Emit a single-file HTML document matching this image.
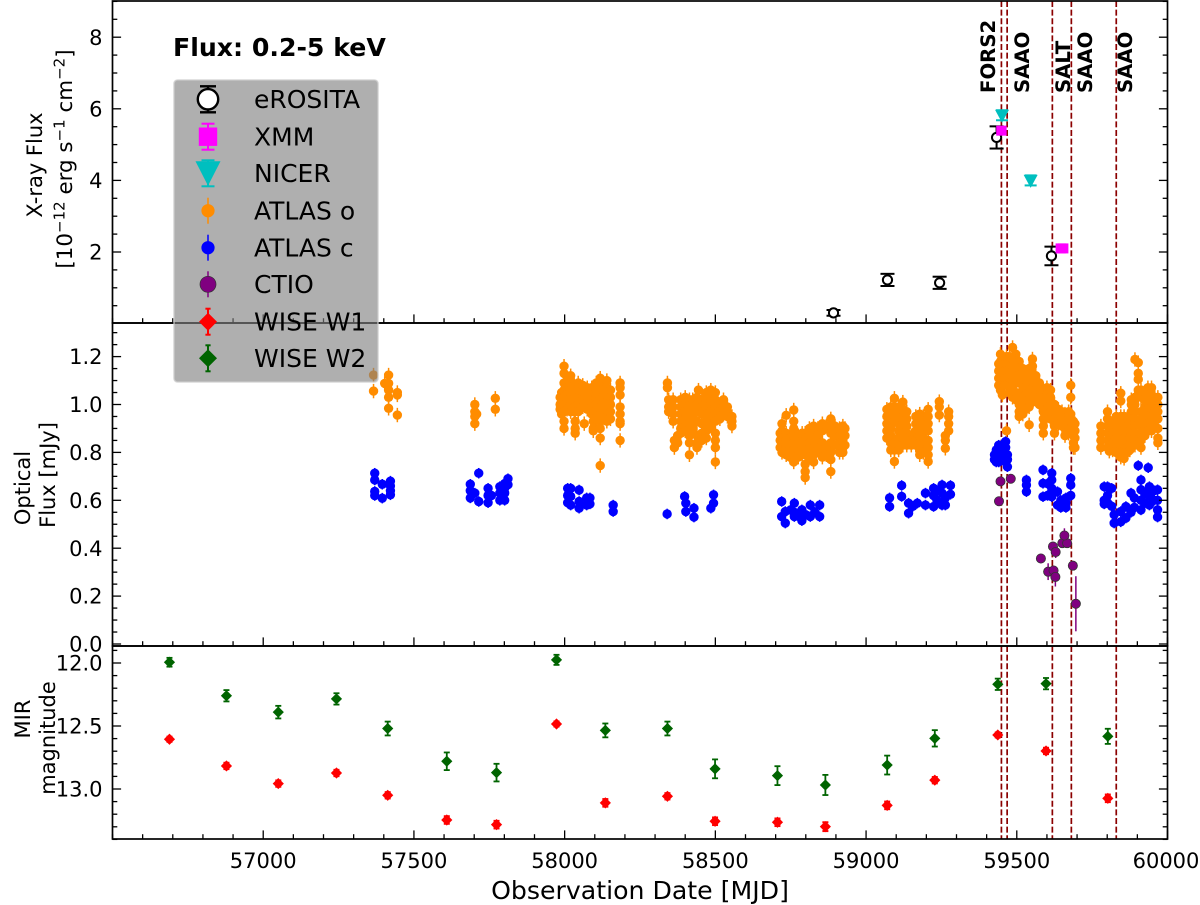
<!DOCTYPE html>
<html lang="en">
<head>
<meta charset="utf-8">
<title>Multi-wavelength light curve</title>
<style>
html,body{margin:0;padding:0;background:#fff;}
svg{display:block;font-family:"DejaVu Sans","Liberation Sans",sans-serif;}
</style>
</head>
<body>
<svg id="chart" xmlns="http://www.w3.org/2000/svg" width="1200" height="905" viewBox="0 0 1200 905"></svg>
<script>
const xTickValues=[57000,57500,58000,58500,59000,59500,60000];
const xrayTickValues=[2,4,6,8];
const xrayTickLabels=["2","4","6","8"];
const opticalTickValues=[0,0.2,0.4,0.6,0.8,1.0,1.2];
const opticalTickLabels=["0.0","0.2","0.4","0.6","0.8","1.0","1.2"];
const mirTickValues=[12,12.5,13];
const mirTickLabels=["12.0","12.5","13.0"];
const specLines=[59449,59468,59618,59681,59830];
const specLabels=["FORS2","SAAO","SALT","SAAO","SAAO"];

const erositaMjd=[58892,59071,59244,59433,59615];
const erositaFlux=[0.3,1.22,1.14,5.2,1.89];
const erositaErr=[0.08,0.17,0.17,0.31,0.26];
const xmmMjd=[59449,59646,59654];
const xmmFlux=[5.39,2.1,2.1];
const xmmErr=[0.08,0.06,0.06];
const nicerMjd=[59451,59546];
const nicerFlux=[5.82,4.0];
const nicerErr=[0.14,0.14];

const ctioMjd=[59446,59441,59480,59580,59604,59620,59622,59629,59628,59651,59667,59658,59686,59696];
const ctioFlux=[0.679,0.596,0.69,0.357,0.302,0.407,0.307,0.384,0.28,0.421,0.421,0.453,0.327,0.168];
const ctioErr=[0.01,0.01,0.01,0.015,0.035,0.015,0.02,0.025,0.04,0.02,0.015,0.03,0.015,0.115];

const atlasOErr=[0.03];
const atlasCErr=[0.022];
const atlasOGroups=[
[57366,[1.123,1.056]],[57403,[1.088]],[57416,[1.123,1.088,1.06,1.03,0.984]],[57445,[1.05,1.04,0.956]],
[57702,[1.0,0.97,0.95,0.92]],[57708,[0.96]],[57770,[1.026,0.98]],
[57985,[1.03,1.0,0.98]],[57990,[1.05,1.02,0.99,0.96]],[57998,[1.16,1.13,1.09,1.06,1.03,1.0,0.97,0.93,0.9]],
[58008,[1.1,1.07,1.04,1.01,0.98]],[58020,[1.12,1.09,1.06,1.03,1.0,0.97]],[58032,[1.08,1.05,1.02,0.99,0.97]],
[58035,[0.93,0.9,0.88]],[58045,[1.09,1.06,1.03,1.0,0.97]],[58060,[1.08,1.05,1.02,0.99]],[58065,[0.92]],
[58075,[1.07,1.04,1.01,0.98]],[58090,[1.07,1.04,1.01,0.99,0.96]],[58095,[0.93,0.9,0.89]],
[58105,[1.09,1.06,1.03,1.0,0.97,0.94]],[58118,[1.11,1.08,1.05,1.02,0.99,0.96,0.93,0.9,0.86,0.745]],
[58130,[1.07,1.04,1.01,0.98]],[58140,[1.1,1.07,1.04,1.01,0.98,0.95,0.93]],[58152,[1.06,1.03,1.0,0.97,0.94]],
[58184,[1.09,1.07,1.04,0.99,0.96,0.93,0.92,0.85]],
[58341,[1.09,1.07]],[58345,[1.02,0.99,0.97]],[58360,[1.02,0.99,0.96,0.93]],[58364,[0.85,0.82]],[58375,[0.87,0.84]],
[58385,[1.02,0.99,0.96,0.93,0.9,0.88]],[58400,[1.03,1.0,0.97,0.94,0.91,0.89]],[58414,[1.02,0.99,0.96,0.92,0.87,0.84,0.79]],
[58425,[1.02,0.99,0.95,0.9]],[58439,[1.03,1.0,0.97,0.93,0.87,0.84,0.82]],[58444,[1.06]],
[58455,[1.02,0.99,0.96,0.92,0.88,0.85]],[58470,[1.05,1.02,0.99,0.96,0.93,0.89,0.86]],[58485,[1.06,1.03,1.0,0.97,0.94,0.91]],
[58500,[1.05,1.02,0.99,0.96,0.93,0.88,0.85,0.82,0.76]],[58515,[1.0,0.97,0.94]],[58527,[1.02,0.99,0.96]],
[58540,[0.99,0.97,0.95]],[58555,[0.95,0.93,0.91]],
[58715,[0.88,0.85,0.82]],[58721,[0.92,0.89,0.86,0.83,0.8]],[58735,[0.955,0.88,0.85,0.82,0.79]],[58748,[0.86,0.83,0.8,0.78]],
[58760,[0.977,0.93,0.9,0.87,0.84,0.81,0.78,0.76]],[58775,[0.87,0.84,0.81,0.78]],[58788,[0.88,0.85,0.82,0.79]],
[58798,[0.88,0.85,0.82,0.79,0.75,0.72,0.695]],[58812,[0.9,0.87,0.84,0.81,0.78]],[58826,[0.91,0.88,0.85,0.82,0.79,0.76]],
[58840,[0.9,0.87,0.84,0.81]],[58855,[0.92,0.89,0.84,0.81,0.78]],[58868,[0.91,0.82,0.79]],
[58883,[0.94,0.91,0.88,0.84,0.8,0.77,0.72]],[58897,[0.91,0.87,0.83]],[58912,[0.9,0.87,0.84,0.8]],[58923,[0.91,0.88,0.85,0.82,0.8]],[58930,[0.9,0.87,0.83]],
[59069,[0.98,0.95,0.92,0.89,0.86]],[59082,[0.99,0.96,0.9,0.87,0.84,0.81]],[59094,[1.026,0.99,0.96,0.93,0.84,0.81,0.762]],
[59108,[0.99,0.96,0.92,0.89,0.86,0.83,0.81]],[59122,[1.01,0.98,0.95,0.92,0.89,0.86,0.83]],[59135,[0.97,0.94,0.91,0.88,0.85,0.83]],
[59150,[0.87,0.85,0.83]],[59165,[0.95,0.92,0.89,0.85,0.83]],[59178,[0.96,0.93,0.9,0.87,0.84,0.81,0.79]],
[59190,[0.95,0.92,0.89,0.86,0.83,0.8]],[59206,[0.98,0.95,0.92,0.89,0.85,0.82,0.79,0.762]],[59243,[1.012,0.99,0.956]],
[59263,[0.87,0.85,0.817]],[59274,[0.97,0.95,0.92,0.89]],
[59440,[1.17,1.14,1.11,1.08]],[59446,[1.21,1.18,1.15,1.12,1.09,1.06]],[59452,[1.19,1.16,1.13,1.1,1.04]],[59460,[1.17,1.14,1.11,1.08]],
[59466,[1.2,1.17,1.14,1.11,1.08,0.89]],[59476,[1.2,1.17,1.14,1.11,1.08,1.05]],[59486,[1.238,1.19,1.16,1.13,1.1,1.07,1.03]],
[59497,[1.21,1.18,1.15,1.12,1.09,1.05,1.02]],[59508,[1.18,1.15,1.12,1.09,1.0,0.97,0.95]],[59520,[1.15,1.12,1.09,1.06,1.03,0.99,0.96]],
[59530,[1.13,1.1,1.07,1.04,1.01,0.98]],[59541,[1.15,1.12,1.09,1.05,1.02,0.99,0.915]],[59552,[1.19,1.16,1.13,1.1,1.07,1.04,1.01]],
[59563,[1.12,1.09,1.06,1.03]],[59575,[1.09,1.06,1.03,1.0]],[59588,[1.06,1.03,1.0,0.97,0.94,0.91,0.88]],[59600,[1.07,1.04,1.01,0.98,0.95]],
[59612,[1.06,1.03,1.0,0.97,0.94]],[59625,[1.0,0.97,0.94,0.91,0.88]],[59638,[0.98,0.95,0.92]],[59650,[0.97,0.94,0.91]],
[59660,[0.96,0.93,0.9,0.87]],[59672,[0.97,0.94,0.91,0.88]],[59679,[1.08,1.03,0.96,0.93,0.9]],[59688,[0.93,0.9,0.87,0.84,0.82]],[59693,[0.92,0.89,0.86,0.82]],
[59779,[0.91,0.88,0.85,0.82]],[59801,[0.97,0.94,0.91,0.88,0.85,0.82]],[59807,[0.93,0.9,0.87,0.805]],[59818,[0.93,0.9,0.87,0.84,0.81]],
[59830,[0.95,0.92,0.89,0.86,0.83,0.8]],[59845,[1.047,1.015,0.95,0.92,0.89,0.86,0.83,0.8,0.78]],[59856,[0.95,0.92,0.89,0.86,0.83,0.8,0.775]],
[59866,[0.94,0.91,0.88,0.85,0.82,0.8]],[59875,[0.89,0.86,0.83,0.81]],[59880,[1.02,1.0,0.97,0.94,0.91,0.88,0.85,0.82]],
[59892,[1.188,1.03,1.0,0.97,0.94,0.91,0.88,0.85,0.83]],[59903,[1.175,1.13,1.105,1.06,1.04]],[59912,[1.06,1.03,0.97,0.94,0.91,0.88,0.85,0.82]],
[59925,[1.05,1.02,0.99,0.96,0.93,0.9,0.87]],[59935,[1.07,1.04,1.01,0.98,0.95,0.92,0.89]],[59947,[1.07,1.04,1.01,0.98,0.95,0.92,0.89]],
[59958,[1.03,1.0,0.97,0.94,0.91]],[59968,[1.03,1.0,0.97,0.94,0.9,0.86,0.84]]
];
const atlasCGroups=[
[57370,[0.713,0.685,0.637,0.62]],[57395,[0.667,0.609]],[57422,[0.68,0.66,0.64,0.623]],
[57715,[0.713,0.595]],[57687,[0.667,0.64,0.61]],[57702,[0.63]],[57746,[0.65,0.62,0.59]],[57757,[0.62]],[57785,[0.657,0.63,0.6]],[57801,[0.67,0.65,0.63,0.6]],[57812,[0.69,0.665]],
[58010,[0.65,0.62,0.59]],[58020,[0.65,0.616,0.58]],[58048,[0.643,0.595,0.567]],[58073,[0.61,0.58]],[58084,[0.61,0.585]],[58161,[0.58,0.553]],[58340,[0.543]],
[58398,[0.616]],[58402,[0.588,0.553]],[58429,[0.567,0.53]],[58494,[0.623,0.588]],[58485,[0.567]],
[58720,[0.595,0.532]],[58732,[0.553,0.505]],[58762,[0.588,0.55,0.532]],[58787,[0.56,0.515]],[58815,[0.58,0.532]],[58846,[0.58,0.532]],[58750,[0.56]],[58775,[0.535]],[58800,[0.54]],[58830,[0.55]],
[59078,[0.61,0.574]],[59118,[0.662,0.616]],[59141,[0.588,0.546]],[59170,[0.588]],[59155,[0.575]],[59197,[0.63,0.58]],[59224,[0.65,0.62,0.574]],[59252,[0.664,0.63,0.58]],[59263,[0.61,0.58]],[59280,[0.662,0.625]],[59235,[0.64,0.6]],
[59426,[0.79,0.77]],[59432,[0.81,0.78,0.76]],[59440,[0.83,0.8,0.77,0.76]],[59450,[0.83,0.8,0.77]],[59463,[0.845,0.82,0.79,0.76]],[59469,[0.79,0.77,0.74]],
[59532,[0.685,0.664,0.636]],[59587,[0.727,0.671,0.615]],[59602,[0.67,0.62]],[59616,[0.713,0.685,0.65,0.615]],[59635,[0.636,0.58]],[59646,[0.6,0.57]],[59663,[0.61,0.59,0.57]],[59679,[0.692,0.664,0.62]],
[59790,[0.657,0.6,0.585]],[59801,[0.657,0.62,0.59]],[59815,[0.65,0.575]],[59823,[0.54,0.505]],[59845,[0.553,0.51]],[59862,[0.574,0.526]],[59879,[0.63,0.55]],[59890,[0.61,0.57]],
[59903,[0.745]],[59912,[0.685,0.644,0.6,0.56]],[59925,[0.63,0.59]],[59936,[0.736]],[59940,[0.657,0.62,0.58]],[59956,[0.64,0.6]],[59967,[0.644,0.6,0.56,0.53]]
];

const wiseMjd=[56689,56878,57050,57243,57413,57609,57774,57973,58135,58341,58499,58706,58865,59070,59228,59437,59597,59802];
const wiseW1Mag=[12.605,12.817,12.957,12.873,13.05,13.246,13.283,12.484,13.11,13.058,13.256,13.264,13.299,13.13,12.93,12.571,12.698,13.074];
const wiseW1Err=[0.02,0.025,0.025,0.025,0.025,0.03,0.03,0.02,0.03,0.025,0.03,0.03,0.035,0.03,0.025,0.02,0.025,0.03];
const wiseW2Mag=[11.994,12.26,12.39,12.285,12.52,12.78,12.87,11.975,12.535,12.52,12.84,12.894,12.968,12.81,12.598,12.169,12.164,12.582];
const wiseW2Err=[0.035,0.045,0.05,0.045,0.055,0.07,0.07,0.04,0.055,0.055,0.075,0.075,0.08,0.075,0.065,0.045,0.045,0.06];

const NS="http://www.w3.org/2000/svg";
const svg=document.getElementById("chart");
const L=112.5,R=1167.5,P1T=1,P1B=323,P2B=646,P3B=839;
function sx(v){return L+(v-56500)*(R-L)/3500;}
function y1(v){return 323.6-v*35.8;}
function y2(v){return 644-v*239.5;}
function y3(v){return 663+(v-12)*126;}
function mk(tag,attrs,parent,text){
  const e=document.createElementNS(NS,tag);
  for(const k in attrs){e.setAttribute(k,attrs[k]);}
  if(text!==undefined){e.textContent=text;}
  (parent||svg).appendChild(e);
  return e;
}
function seg(x1,y1v,x2,y2v,color,w,parent){
  return mk("line",{x1:x1,y1:y1v,x2:x2,y2:y2v,stroke:color,"stroke-width":w},parent);
}
function named(e,name){
  
  
  return e;
}
function errorBar(g,x,ya,yb,color,w,cap){
  named(seg(x,ya,x,yb,color,w,g),"error-bar");
  if(cap>0){
    named(seg(x-cap,ya,x+cap,ya,color,w,g),"error-cap");
    named(seg(x-cap,yb,x+cap,yb,color,w,g),"error-cap");
  }
}

/* spectroscopic epochs (under the data) */
const gLines=named(mk("g",{}),"spectroscopy-epoch-lines");
specLines.forEach(function(m){
  const l=seg(sx(m),P1T,sx(m),P3B,"#8b0000",1.7,gLines);
  l.setAttribute("stroke-dasharray","6 2.6");
  named(l,"spectroscopy-epoch-line");
});

/* optical */
const gO=named(mk("g",{}),"atlas-o-series");
atlasOGroups.forEach(function(row){
  row[1].forEach(function(f){
    const px=sx(row[0]);
    named(seg(px,y2(f+atlasOErr[0]),px,y2(f-atlasOErr[0]),"#ff8c00",1.5,gO),"atlas-o-error");
    const c=mk("circle",{cx:px,cy:y2(f),r:4.7,fill:"#ff8c00"},gO);
    named(c,"atlas-o-point");
  });
});
const gC=named(mk("g",{}),"atlas-c-series");
atlasCGroups.forEach(function(row){
  row[1].forEach(function(f){
    const px=sx(row[0]);
    named(seg(px,y2(f+atlasCErr[0]),px,y2(f-atlasCErr[0]),"#0000ff",1.5,gC),"atlas-c-error");
    const c=mk("circle",{cx:px,cy:y2(f),r:4.7,fill:"#0000ff"},gC);
    named(c,"atlas-c-point");
  });
});
const gT=named(mk("g",{}),"ctio-series");
ctioMjd.forEach(function(m,i){
  const px=sx(m);
  named(seg(px,y2(ctioFlux[i]+ctioErr[i]),px,y2(ctioFlux[i]-ctioErr[i]),"#800080",1.5,gT),"ctio-error");
  const c=mk("circle",{cx:px,cy:y2(ctioFlux[i]),r:4.6,fill:"#800080",stroke:"#333","stroke-width":0.8},gT);
  named(c,"ctio-point");
});

/* x-ray */
const gE=named(mk("g",{}),"erosita-series");
erositaMjd.forEach(function(m,i){
  const px=sx(m);
  errorBar(gE,px,y1(erositaFlux[i]+erositaErr[i]),y1(erositaFlux[i]-erositaErr[i]),"#000",2,7);
  const c=mk("circle",{cx:px,cy:y1(erositaFlux[i]),r:4.6,fill:"#fff",stroke:"#000","stroke-width":2},gE);
  named(c,"erosita-point");
});
const gX=named(mk("g",{}),"xmm-series");
xmmMjd.forEach(function(m,i){
  const px=sx(m);
  errorBar(gX,px,y1(xmmFlux[i]+xmmErr[i]),y1(xmmFlux[i]-xmmErr[i]),"#ff00ff",1.5,3.5);
  const s=mk("rect",{x:px-5.2,y:y1(xmmFlux[i])-5,width:10.4,height:10,fill:"#ff00ff"},gX);
  named(s,"xmm-point");
});
const gN=named(mk("g",{}),"nicer-series");
nicerMjd.forEach(function(m,i){
  const px=sx(m),py=y1(nicerFlux[i]);
  errorBar(gN,px,y1(nicerFlux[i]+nicerErr[i]),y1(nicerFlux[i]-nicerErr[i]),"#00bfbf",2,6);
  const t=mk("polygon",{points:(px-7)+","+(py-5.5)+" "+(px+7)+","+(py-5.5)+" "+px+","+(py+7.5),fill:"#00bfbf"},gN);
  named(t,"nicer-point");
});

/* mid-infrared */
function diamond(g,px,py,h,color){
  return mk("polygon",{points:(px-h)+","+py+" "+px+","+(py-h)+" "+(px+h)+","+py+" "+px+","+(py+h),fill:color},g);
}
const gW1=named(mk("g",{}),"wise-w1-series");
wiseMjd.forEach(function(m,i){
  const px=sx(m);
  errorBar(gW1,px,y3(wiseW1Mag[i]-wiseW1Err[i]),y3(wiseW1Mag[i]+wiseW1Err[i]),"#ff0000",2,3);
  named(diamond(gW1,px,y3(wiseW1Mag[i]),5.6,"#ff0000"),"wise-w1-point");
});
const gW2=named(mk("g",{}),"wise-w2-series");
wiseMjd.forEach(function(m,i){
  const px=sx(m);
  errorBar(gW2,px,y3(wiseW2Mag[i]-wiseW2Err[i]),y3(wiseW2Mag[i]+wiseW2Err[i]),"#006400",1.8,3);
  named(diamond(gW2,px,y3(wiseW2Mag[i]),5.6,"#006400"),"wise-w2-point");
});

/* frames and ticks */
const gAxes=named(mk("g",{}),"axes");
function frame(top,bottom,name){
  const r=mk("rect",{x:L,y:top,width:R-L,height:bottom-top,fill:"none",stroke:"#000","stroke-width":1.7},gAxes);
  named(r,name);
}
frame(P1T,P1B,"xray-panel-frame");
frame(P1B,P2B,"optical-panel-frame");
frame(P2B,P3B,"mir-panel-frame");
function xTicks(bottom){
  for(let v=56500;v<=60000;v+=100){
    const major=xTickValues.indexOf(v)>=0;
    const t=seg(sx(v),bottom,sx(v),bottom-(major?8.6:4.8),"#000",1.3,gAxes);
    named(t,major?"x-major-tick":"x-minor-tick");
  }
}
xTicks(P1B);xTicks(P2B);xTicks(P3B);
function yTicks(fn,from,to,step,majors,labels,top,bottom,panel){
  const count=Math.round((to-from)/step);
  for(let i=0;i<=count;i++){
    const v=from+i*step,py=fn(v);
    if(py<top-0.5||py>bottom+0.5)continue;
    const idx=majors.findIndex(function(m){return Math.abs(m-v)<step/10;});
    const len=idx>=0?8.6:4.8;
    named(seg(L,py,L+len,py,"#000",1.3,gAxes),panel+"-left-tick");
    named(seg(R,py,R-len,py,"#000",1.3,gAxes),panel+"-right-tick");
  }
  majors.forEach(function(m,i){
    const t=mk("text",{x:102.5,y:fn(m)+7.6,"text-anchor":"end","font-size":21,fill:"#000"},gAxes,labels[i]);
    named(t,panel+"-tick-label");
  });
}
yTicks(y1,0,9,0.5,xrayTickValues,xrayTickLabels,P1T,P1B,"xray");
yTicks(y2,0,1.35,0.05,opticalTickValues,opticalTickLabels,P1B,P2B,"optical");
yTicks(y3,11.9,13.4,0.1,mirTickValues,mirTickLabels,P2B,P3B,"mir");
xTickValues.forEach(function(v){
  const t=mk("text",{x:Math.min(sx(v),1166),y:868,"text-anchor":"middle","font-size":21,fill:"#000"},gAxes,String(v));
  named(t,"x-tick-label");
});

/* axis titles */
function rotText(cx,cy,size,str,name,weight){
  const t=mk("text",{transform:"translate("+cx+","+cy+") rotate(-90)","text-anchor":"middle","font-size":size,fill:"#000"},svg,str);
  if(weight){t.setAttribute("font-weight",weight);}
  named(t,name);
  return t;
}
rotText(42,165,21,"X-ray Flux","xray-axis-title-line-1");
const t2=rotText(72,159,21.4,"","xray-axis-title-line-2");
function tspan(str,sup){
  const s=mk("tspan",{},t2,str);
  if(sup){s.setAttribute("font-size",15);s.setAttribute("dy",-7.5);}
  else if(t2.dataset.prev==="1"){s.setAttribute("dy",7.5);}
  t2.dataset.prev=sup?"1":"0";
}
tspan("[10");tspan("−12",true);tspan(" erg s");tspan("−1",true);tspan(" cm");tspan("−2",true);tspan("]");
rotText(30,488,21,"Optical","optical-axis-title-line-1");
rotText(55,475,21,"Flux [mJy]","optical-axis-title-line-2");
rotText(30,719,21,"MIR","mir-axis-title-line-1");
rotText(55,738,21,"magnitude","mir-axis-title-line-2");
const xTitle=mk("text",{x:640,y:899,"text-anchor":"middle","font-size":25.2,fill:"#000"},svg,"Observation Date [MJD]");
named(xTitle,"x-axis-title");

/* spec labels */
const specLabelX=[995,1029,1070,1092,1132];
specLabels.forEach(function(s,i){
  const t=mk("text",{transform:"translate("+specLabelX[i]+",93) rotate(-90)","font-size":19.7,"font-weight":"bold",fill:"#000"},svg,s);
  named(t,"spectroscopy-label");
});
const flux=mk("text",{x:173,y:56,"font-size":25.2,"font-weight":"bold",fill:"#000"},svg,"Flux: 0.2-5 keV");
named(flux,"energy-band-annotation");

/* legend */
const gLeg=named(mk("g",{}),"legend");
const box=mk("rect",{x:174,y:80,width:204,height:302,rx:3.5,ry:3.5,fill:"#808080","fill-opacity":0.63,stroke:"#cccccc","stroke-opacity":0.75,"stroke-width":1.6},gLeg);
named(box,"legend-frame");
const legendNames=["eROSITA","XMM","NICER","ATLAS o","ATLAS c","CTIO","WISE W1","WISE W2"];
const legendRowY=[99.3,136.7,173.3,210.7,247.7,284.3,321.7,358.3];
const MX=208;
function legErr(py,color,w,cap){errorBar(gLeg,MX,py-13,py+13,color,w,cap);}
legendNames.forEach(function(n,i){
  const py=legendRowY[i];
  const txt=mk("text",{x:254,y:py+8.6,"font-size":25,fill:"#000"},gLeg,n);
  named(txt,"legend-entry");
});
legErr(legendRowY[0],"#000",2.4,8);
named(mk("circle",{cx:MX,cy:legendRowY[0],r:10.2,fill:"#fff",stroke:"#000","stroke-width":2.4},gLeg),"legend-marker");
legErr(legendRowY[1],"#ff00ff",2,6.5);
named(mk("rect",{x:MX-9.2,y:legendRowY[1]-9.2,width:18.4,height:18.4,fill:"#ff00ff"},gLeg),"legend-marker");
legErr(legendRowY[2],"#00bfbf",2,6.5);
named(mk("polygon",{points:(MX-12.5)+","+(legendRowY[2]-12)+" "+(MX+12.5)+","+(legendRowY[2]-12)+" "+MX+","+(legendRowY[2]+12.5),fill:"#00bfbf"},gLeg),"legend-marker");
legErr(legendRowY[3],"#ff8c00",1.5,0);
named(mk("circle",{cx:MX,cy:legendRowY[3],r:6.6,fill:"#ff8c00"},gLeg),"legend-marker");
legErr(legendRowY[4],"#0000ff",1.5,0);
named(mk("circle",{cx:MX,cy:legendRowY[4],r:6.6,fill:"#0000ff"},gLeg),"legend-marker");
legErr(legendRowY[5],"#800080",1.5,0);
named(mk("circle",{cx:MX,cy:legendRowY[5],r:8,fill:"#800080",stroke:"#333","stroke-width":0.7},gLeg),"legend-marker");
legErr(legendRowY[6],"#ff0000",2,2.6);
named(diamond(gLeg,MX,legendRowY[6],9,"#ff0000"),"legend-marker");
legErr(legendRowY[7],"#006400",2,2.6);
named(diamond(gLeg,MX,legendRowY[7],9,"#006400"),"legend-marker");
</script>
</body>
</html>
